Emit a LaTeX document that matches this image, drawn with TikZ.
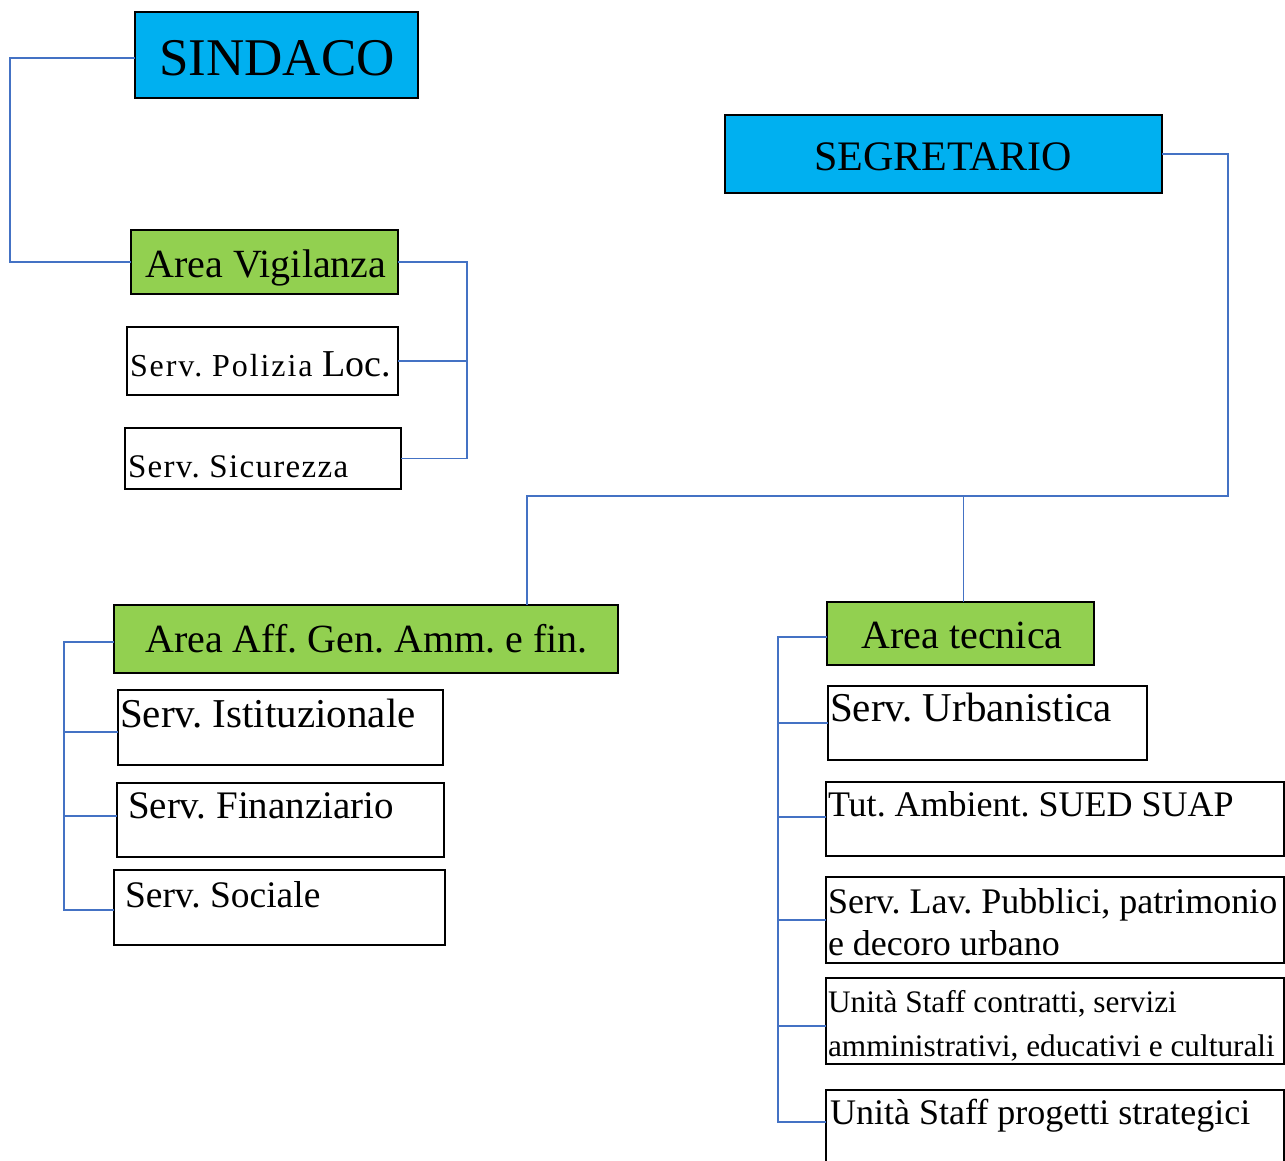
\documentclass[tikz,border=0pt]{standalone}
\usepackage{fontspec}
\setmainfont{Liberation Serif}
\usetikzlibrary{calc}
\definecolor{cyanfill}{HTML}{00B0F0}
\definecolor{greenfill}{HTML}{92D050}
\definecolor{linkblue}{HTML}{4472C4}
\newcommand\fsz[1]{\fontsize{#1}{#1}\selectfont}
\tikzset{
  box/.style={draw=black, line width=2pt, inner sep=0pt, outer sep=0pt, rectangle},
  headbox/.style={box, fill=cyanfill},
  areabox/.style={box, fill=greenfill},
  txt/.style={inner sep=0pt, outer sep=0pt, anchor=base west},
  ctxt/.style={inner sep=0pt, outer sep=0pt, anchor=base},
  conn/.style={draw=linkblue, line width=1.2pt}
}
\frenchspacing
\begin{document}
\frenchspacing
\begin{tikzpicture}[x=1pt,y=-1pt]
\useasboundingbox (0,0) rectangle (1285,1160);
\fill[white] (0,0) rectangle (1285,1160);

% boxes
\node[headbox, minimum width=283, minimum height=86] (sindaco) at (276.5,55) {};
\node[areabox, minimum width=267, minimum height=64] (vig) at (264.5,262) {};
\node[box, minimum width=271, minimum height=68] (pol) at (262.5,361) {};
\node[box, minimum width=276, minimum height=61] (sic) at (263,458.5) {};
\node[headbox, minimum width=437, minimum height=78] (seg) at (943.5,154) {};
\node[areabox, minimum width=504, minimum height=68] (aff) at (366,639) {};
\node[box, minimum width=325, minimum height=75] (ist) at (280.5,727.5) {};
\node[box, minimum width=327, minimum height=74] (fin) at (280.5,820) {};
\node[box, minimum width=331, minimum height=75] (soc) at (279.5,907.5) {};
\node[areabox, minimum width=267, minimum height=63] (tec) at (960.5,633.5) {};
\node[box, minimum width=319, minimum height=74] (urb) at (987.5,723) {};
\node[box, minimum width=458, minimum height=74] (tut) at (1055,819) {};
\node[box, minimum width=458, minimum height=86] (lav) at (1055,920) {};
\node[box, minimum width=458, minimum height=86] (uni) at (1055,1021) {};
\node[box, minimum width=458, minimum height=85] (pro) at (1055,1132.5) {};

% texts
\node[ctxt, font=\fsz{53}] (tsindaco) at (277,75) {SINDACO};
\node[ctxt, font=\fsz{40}] (tvig) at (266,277) {Area Vigilanza};
\node[txt] (tpol) at (130,376) {{\fsz{32}\addfontfeature{LetterSpace=6}Serv. Polizia }{\fsz{38}Loc.}};
\node[txt, font=\fsz{33}\addfontfeature{LetterSpace=4}] (tsic) at (128,477) {Serv. Sicurezza};
\node[ctxt, font=\fsz{42}] (tseg) at (943,170) {SEGRETARIO};
\node[ctxt, font=\fsz{40}] (taff) at (366.5,652) {Area Aff. Gen. Amm. e fin.};
\node[txt, font=\fsz{41}] (tist) at (120,727) {Serv. Istituzionale};
\node[txt, font=\fsz{39}] (tfin) at (128,818) {Serv. Finanziario};
\node[txt, font=\fsz{37.5}] (tsoc) at (125,907) {Serv. Sociale};
\node[ctxt, font=\fsz{40}] (ttec) at (962,648) {Area tecnica};
\node[txt, font=\fsz{41}] (turb) at (830,721) {Serv. Urbanistica};
\node[txt, font=\fsz{36}] (ttut) at (828,816) {Tut. Ambient. SUED SUAP};
\node[txt, font=\fsz{36}] (tlava) at (828,913.5) {Serv. Lav. Pubblici, patrimonio};
\node[txt, font=\fsz{36}] (tlavb) at (828,955) {e decoro urbano};
\node[txt, font=\fsz{31.3}] (tunia) at (828,1012.5) {Unità Staff contratti, servizi};
\node[txt, font=\fsz{31.3}] (tunib) at (828,1056.5) {amministrativi, educativi e culturali};
\node[txt, font=\fsz{36}] (tpro) at (830,1124) {Unità Staff progetti strategici};

% connector coordinates
\coordinate (lx) at (10,0);
\coordinate (vx) at (467,0);
\coordinate (sx) at (1228,0);
\coordinate (busy) at (0,496);
\coordinate (ax) at (527,0);
\coordinate (ly) at (64,0);
\coordinate (rx) at (778,0);
\coordinate (prow) at ($(pro.north west)+(0,32)$);

% connectors
\draw[conn] ([yshift=-3pt]sindaco.west) -- ([yshift=-3pt]sindaco.west -| lx) |- (vig.west);
\draw[conn] (vig.east) -- (vig.east -| vx) |- (sic.east);
\draw[conn] (pol.east) -- (pol.east -| vx);

\draw[conn] (seg.east) -| (sx |- busy) -| (ax |- aff.north);
\draw[conn] ([xshift=3pt]tec.north) -- ([xshift=3pt]tec.north |- busy);

\draw[conn] ([yshift=-3pt]aff.west) -- ([yshift=-3pt]aff.west -| ly) |- ([yshift=-2.5pt]soc.west);
\draw[conn] ([yshift=-4.5pt]ist.west) -- ([yshift=-4.5pt]ist.west -| ly);
\draw[conn] ([yshift=4pt]fin.west) -- ([yshift=4pt]fin.west -| ly);

\draw[conn] ([yshift=-3.5pt]tec.west) -- ([yshift=-3.5pt]tec.west -| rx) |- (prow);
\draw[conn] (urb.west) -- (urb.west -| rx);
\draw[conn] ([yshift=2pt]tut.west) -- ([yshift=2pt]tut.west -| rx);
\draw[conn] (lav.west) -- (lav.west -| rx);
\draw[conn] ([yshift=-5pt]uni.west) -- ([yshift=-5pt]uni.west -| rx);
\end{tikzpicture}
\end{document}
